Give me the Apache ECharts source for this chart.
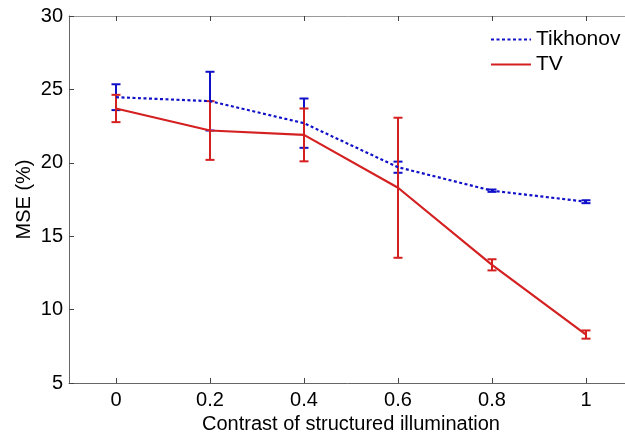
<!DOCTYPE html>
<html>
<head>
<meta charset="utf-8">
<script src="https://cdn.jsdelivr.net/npm/echarts@6/dist/echarts.min.js"></script>
<style>
  html, body { margin: 0; padding: 0; background: #fff; }
  #chart { width: 625px; height: 434px; }
</style>
</head>
<body>
<div id="chart"></div>
<script>
// contrast values on the x axis
var contrast = [0, 0.2, 0.4, 0.6, 0.8, 1];
var xTicks = [0, 0.2, 0.4, 0.6, 0.8, 1];
var yTicks = [5, 10, 15, 20, 25, 30];

// MSE (%), with half error bar lengths
var tikhonovMse = [24.47, 24.2, 22.7, 19.7, 18.1, 17.35];
var tikhonovErr = [0.88, 2.0, 1.68, 0.38, 0.08, 0.1];
var tvMse = [23.7, 22.2, 21.9, 18.3, 13.05, 8.3];
var tvErr = [0.93, 2.0, 1.8, 4.77, 0.38, 0.28];

var blue = '#1010c8';
var red = '#d42020';
var font = 'Liberation Sans, Arial, Helvetica, sans-serif';

var myChart = echarts.init(document.getElementById('chart'));

function pairs(ys) {
  return contrast.map(function (x, i) { return [x, ys[i]]; });
}
function bars(ys, es) {
  return contrast.map(function (x, i) { return [x, ys[i] - es[i], ys[i] + es[i]]; });
}

// 画误差棒：竖线加上下两个短横
function errorBar(color) {
  return function (params, api) {
    var x = api.value(0);
    var top = api.coord([x, api.value(2)]);
    var bot = api.coord([x, api.value(1)]);
    var hw = 4.5;
    var style = { stroke: color, lineWidth: 2, fill: null };
    return {
      type: 'group',
      children: [
        { type: 'line', shape: { x1: top[0], y1: top[1], x2: bot[0], y2: bot[1] }, style: style },
        { type: 'line', shape: { x1: top[0] - hw, y1: top[1], x2: top[0] + hw, y2: top[1] }, style: style },
        { type: 'line', shape: { x1: bot[0] - hw, y1: bot[1], x2: bot[0] + hw, y2: bot[1] }, style: style }
      ]
    };
  };
}

var axisLine = { show: true, onZero: false, lineStyle: { color: '#666', width: 1 } };

var option = {
  animation: false,
  backgroundColor: '#fff',
  grid: { left: 69, top: 16, width: 564, bottom: 51, containLabel: false, outerBoundsMode: 'none' },
  legend: {
    data: ['Tikhonov', 'TV'],
    orient: 'vertical',
    left: 490,
    top: 29,
    padding: 0,
    itemWidth: 40,
    itemHeight: 14,
    itemGap: 4,
    itemStyle: { opacity: 0 },
    textStyle: { fontFamily: font, fontSize: 21, color: '#000', lineHeight: 21 }
  },
  xAxis: [{
    type: 'value',
    min: -0.1,
    max: 1.1,
    position: 'bottom',
    name: 'Contrast of structured illumination',
    nameLocation: 'middle',
    nameGap: 29,
    nameTextStyle: { fontFamily: font, fontSize: 20, color: '#000' },
    axisLine: axisLine,
    axisTick: { show: true, inside: true, length: 5, customValues: xTicks, lineStyle: { color: '#444' } },
    axisLabel: { customValues: xTicks, fontFamily: font, fontSize: 20, color: '#000', margin: 7 },
    splitLine: { show: false }
  }, {
    type: 'value',
    min: -0.1,
    max: 1.1,
    position: 'top',
    axisLine: { show: true, onZero: false, lineStyle: { color: '#999', width: 1 } },
    axisTick: { show: true, inside: true, length: 5, customValues: xTicks, lineStyle: { color: '#444' } },
    axisLabel: { show: false },
    splitLine: { show: false }
  }],
  yAxis: [{
    type: 'value',
    min: 5,
    max: 30,
    interval: 5,
    position: 'left',
    name: 'MSE (%)',
    nameLocation: 'middle',
    nameGap: 35,
    nameMoveOverlap: false,
    nameTextStyle: { fontFamily: font, fontSize: 20, color: '#000' },
    axisLine: axisLine,
    axisTick: { show: true, inside: true, length: 5, lineStyle: { color: '#444' } },
    axisLabel: { fontFamily: font, fontSize: 20, color: '#000', margin: 6 },
    splitLine: { show: false }
  }],
  series: [{
    name: 'Tikhonov',
    type: 'line',
    data: pairs(tikhonovMse),
    symbol: 'none',
    color: blue,
    lineStyle: { color: blue, width: 2.2, type: [3, 2.5] }
  }, {
    name: 'Tikhonov err',
    type: 'custom',
    data: bars(tikhonovMse, tikhonovErr),
    renderItem: errorBar(blue),
    encode: { x: 0, y: [1, 2] }
  }, {
    name: 'TV',
    type: 'line',
    data: pairs(tvMse),
    symbol: 'none',
    color: red,
    lineStyle: { color: red, width: 2.2 }
  }, {
    name: 'TV err',
    type: 'custom',
    data: bars(tvMse, tvErr),
    renderItem: errorBar(red),
    encode: { x: 0, y: [1, 2] }
  }]
};

myChart.setOption(option);
</script>
</body>
</html>
